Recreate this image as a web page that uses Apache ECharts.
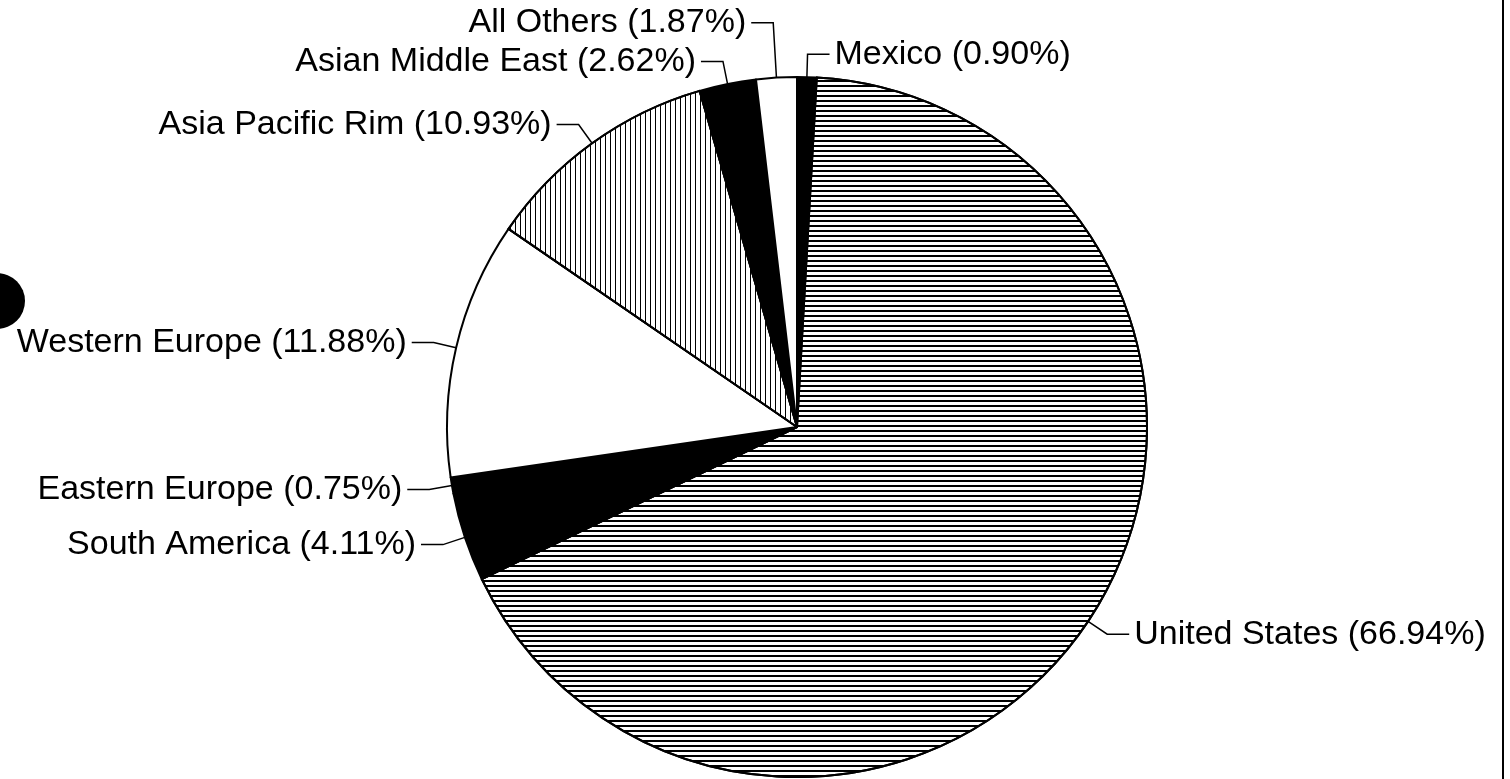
<!DOCTYPE html>
<html>
<head>
<meta charset="utf-8">
<title>Sales by region</title>
<script src="https://cdn.jsdelivr.net/npm/echarts@6/dist/echarts.min.js"></script>
<style>
  html, body { margin: 0; padding: 0; background: #fff; }
  #chart { width: 1510px; height: 779px; }
</style>
</head>
<body>
<div id="chart"></div>
<script>
// slices, clockwise from 12 o'clock
const regions = ['Mexico', 'United States', 'South America', 'Eastern Europe',
  'Western Europe', 'Asia Pacific Rim', 'Asian Middle East', 'All Others']
const shares = [0.90, 66.94, 4.11, 0.75, 11.88, 10.93, 2.62, 1.87]

// hatch patterns
const hStripes = {
  symbol: 'rect', symbolSize: 1, symbolKeepAspect: false, color: '#000',
  dashArrayX: [1, 0], dashArrayY: [2, 3],
}
const vStripes = {
  symbol: 'rect', symbolSize: 1, symbolKeepAspect: false, color: '#000',
  dashArrayX: [1, 4], dashArrayY: [1, 0],
}

const fills = {
  'Mexico': { color: '#000' },
  'United States': { color: '#fff', decal: hStripes },
  'South America': { color: '#000' },
  'Eastern Europe': { color: '#000' },
  'Western Europe': { color: '#fff' },
  'Asia Pacific Rim': { color: '#fff', decal: vStripes },
  'Asian Middle East': { color: '#000' },
  'All Others': { color: '#fff' },
}
// longer leader for the label squeezed above the others
const leaderLength = { 'All Others': 55 }

const chart = echarts.init(document.getElementById('chart'))
chart.setOption({
  backgroundColor: '#fff',
  animation: false,
  graphic: [
    // punch hole and page edge from the scan
    { type: 'circle', shape: { cx: -3, cy: 301, r: 28 }, style: { fill: '#000' } },
    { type: 'line', shape: { x1: 1503, y1: 0, x2: 1503, y2: 779 }, style: { stroke: '#000', lineWidth: 2 } },
  ],
  series: [
    {
      type: 'pie',
      center: [797, 427],
      radius: 350,
      startAngle: 90,
      clockwise: true,
      avoidLabelOverlap: false,
      itemStyle: { borderColor: '#000', borderWidth: 2 },
      label: {
        show: true,
        position: 'outside',
        color: '#000',
        fontFamily: 'Liberation Sans, Arial, sans-serif',
        fontSize: 34,
        distanceToLabelLine: 5,
        formatter: function (p) {
          return p.name + ' (' + p.value.toFixed(2) + '%)'
        },
      },
      labelLine: {
        show: true,
        length: 23,
        length2: 22,
        lineStyle: { color: '#000', width: 1.5 },
      },
      emphasis: { disabled: true },
      data: regions.map(function (name, i) {
        const item = { name: name, value: shares[i], itemStyle: fills[name] }
        if (leaderLength[name]) item.labelLine = { length: leaderLength[name] }
        return item
      }),
    },
  ],
})
</script>
</body>
</html>
